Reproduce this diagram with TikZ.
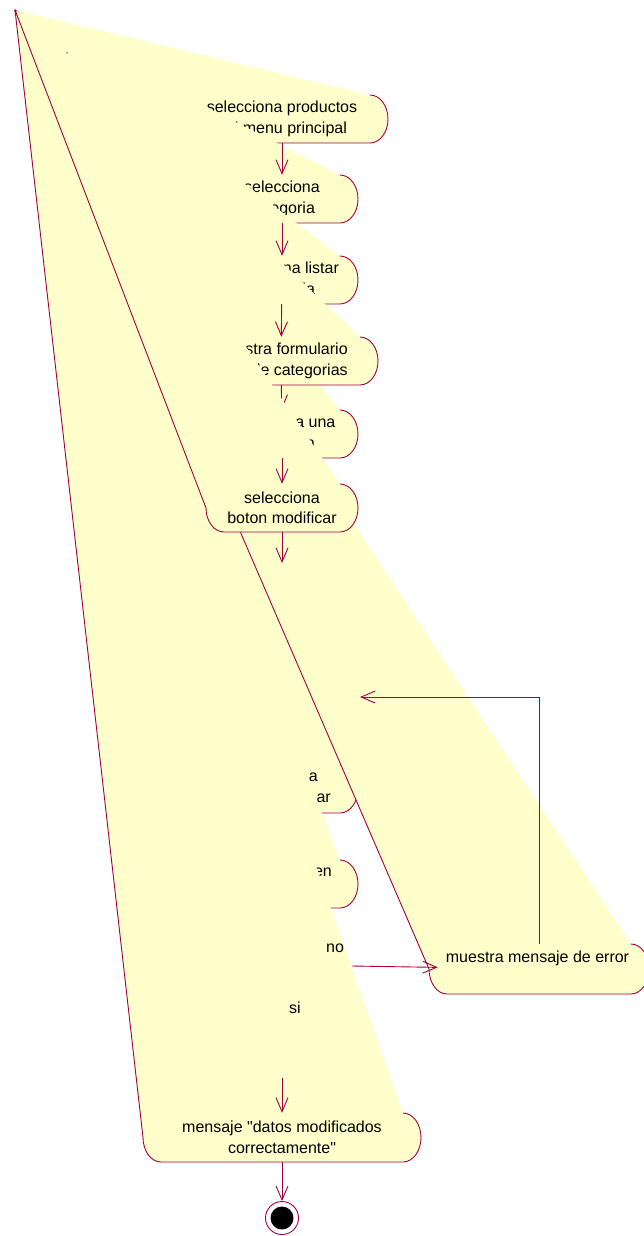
\documentclass[tikz,border=0pt]{standalone}
\usepackage{fontspec}
\setmainfont{Liberation Sans}[Ligatures=TeXOff]
\usepackage{tikz}
\usetikzlibrary{arrows.meta}
\definecolor{roseline}{HTML}{A3003F}
\definecolor{rosefill}{HTML}{FFFFCC}
\newcommand{\actfont}{\fontsize{16}{20.5}\selectfont}
% activity outline whose first corner got pulled to the apex
\newcommand{\actblob}[4]{%
  \pgfmathsetmacro{\blobry}{(#3-#2)/2}
  \fill[blobfill] (apex) -- (#1,#2) arc[start angle=-90,end angle=90,x radius=18,y radius=\blobry]
    -- (#4,#3) arc[start angle=90,end angle=180,x radius=18,y radius=\blobry] -- cycle;
  \draw[blobline] (#1,#2) arc[start angle=-90,end angle=90,x radius=18,y radius=\blobry]
    -- (#4,#3) arc[start angle=90,end angle=180,x radius=18,y radius=\blobry] -- (apex);
}
\tikzset{
  blobfill/.style={fill=rosefill},
  blobline/.style={draw=roseline,line width=0.9pt},
  act/.style={align=center,inner sep=0pt,minimum height=48,font=\actfont},
  lbl/.style={inner sep=0pt,font=\actfont},
  flow/.style={-{Straight Barb[length=14pt,width=12pt]},roseline,line width=0.9pt}
}
\begin{document}
\begin{tikzpicture}[x=1pt,y=-1pt]
\useasboundingbox (0,0) rectangle (643,1236);
\coordinate (apex) at (15,10);
% lower activities
\actblob{340}{765}{813}{224}
\node[lbl,anchor=east] (n7a) at (318,777) {a};
\node[lbl,anchor=east] (n7b) at (331,798) {ar};
\actblob{340}{860}{908}{224}
\node[lbl,anchor=east] (n8a) at (332,872) {en};
\actblob{403}{1113}{1162}{161}
\node[act,minimum height=49] (nL) at (282,1137.5) {mensaje "datos modificados\\correctamente"};
\actblob{631}{944}{994}{447}
\node[minimum width=202,minimum height=50,inner sep=0pt] (err) at (539,969) {};
\node[lbl] (errtxt) at (537.5,958) {muestra mensaje de error};
% upper chain
\actblob{370}{95}{143}{194}
\node[act] (n1) at (282,119) {selecciona productos\\del menu principal};
\actblob{340}{175}{223}{224}
\node[act] (n2) at (282,199) {selecciona\\categoria};
\actblob{340}{256}{304}{224}
\node[act] (n3) at (282,280) {selecciona listar\\categoria};
\actblob{340}{410}{458}{224}
\actblob{360}{337}{385}{204}
\node[act,align=right] (n4) at (281,361) {muestra formulario\\de categorias};
\node[act] (n5) at (282,434) {selecciona una\\categoria};
\draw[flow] (n4) -- (n5);
\actblob{340}{484}{532}{224}
\node[act] (n6) at (282,508) {selecciona\\boton modificar};
% connectors
\coordinate (hid) at (282,563);
\coordinate (back) at (360,697);
\coordinate (dec) at (352,966);
\coordinate (si) at (282,1078);
\node[circle,draw=roseline,fill=white,line width=0.9pt,minimum size=33,inner sep=0pt] (fin) at (282,1218) {};
\fill (fin) circle (11.5);
\foreach \a/\b in {n1/n2,n2/n3,n3/n4,n5/n6,n6/hid,si/nL,nL/fin}
  \draw[flow] (\a) -- (\b);
\draw[flow] (err) |- (back);
\draw[flow] (dec) -- (err);
\node[lbl] (no) at (335,948) {no};
\node[lbl] (yes) at (295,1008) {si};
\node[circle,fill=roseline,inner sep=0pt,minimum size=1.5] (start) at (67,53) {};
\end{tikzpicture}
\end{document}
